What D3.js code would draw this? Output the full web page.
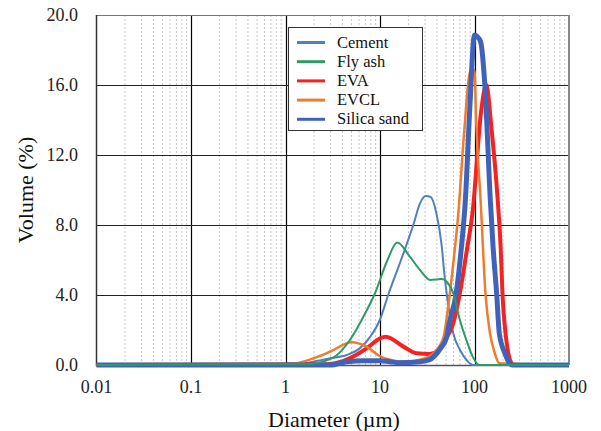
<!DOCTYPE html>
<html><head><meta charset="utf-8">
<script src="https://cdn.jsdelivr.net/npm/d3@7/dist/d3.min.js"></script>
<style>body{margin:0;background:#fff}svg{display:block}</style>
</head><body><svg id="c" width="601" height="431" font-family="Liberation Serif"></svg>
<script>
const xTicks = [0.01, 0.1, 1, 10, 100, 1000];
const xTickLabels = ["0.01", "0.1", "1", "10", "100", "1000"];
const yTicks = [0, 4, 8, 12, 16, 20];
const seriesNames = ["Cement", "Fly ash", "EVA", "EVCL", "Silica sand"];

const cementD = [0.01, 1.2, 1.97, 2.96, 4.45, 6.1, 7.9, 10, 12.2, 17.7, 22.5, 26.5, 30.4, 34.4, 39.2, 45, 48, 51, 55, 59.7, 70.3, 85, 96, 1000];
const cementV = [0, 0, 0.19, 0.38, 0.57, 0.95, 1.62, 2.6, 4.0, 6.38, 8.0, 9.24, 9.66, 9.6, 8.76, 6.8, 5.2, 4.0, 2.8, 1.8, 0.86, 0.2, 0, 0];

const flyashD = [0.01, 1.8, 2.5, 3.5, 4.8, 6.67, 8.85, 12, 15.2, 20.7, 26.5, 33.8, 45, 50.8, 59.6, 70, 82, 95.7, 112, 1000];
const flyashV = [0, 0.05, 0.19, 0.57, 1.43, 2.76, 4.1, 6.0, 7.0, 6.19, 5.43, 4.86, 4.91, 4.76, 4.1, 2.57, 1.43, 0.48, 0, 0];

const evaD = [0.01, 2.75, 3.9, 5.2, 7.2, 10, 11.5, 17.7, 24.4, 33.7, 41.7, 48.9, 59.6, 70, 82, 96, 118, 133, 152, 176, 189, 198, 213, 228, 247, 265, 1000];
const evaV = [0, 0.05, 0.19, 0.48, 0.95, 1.52, 1.62, 1.05, 0.67, 0.63, 0.86, 1.43, 2.38, 4.1, 6.38, 8.86, 14.57, 16.0, 13.4, 9.43, 6.76, 4.0, 1.81, 0.67, 0.1, 0, 0];

const evclD = [0.01, 1.02, 1.4, 1.97, 2.96, 5.0, 7.2, 10, 12.7, 16.2, 20, 26.5, 36.7, 47, 52, 59.6, 67, 78, 89.6, 100, 104, 116, 131, 146, 164, 183, 1000];
const evclV = [0, 0, 0.13, 0.38, 0.76, 1.3, 1.05, 0.5, 0.3, 0.2, 0.2, 0.3, 0.67, 1.6, 3.1, 5.8, 8.5, 13.4, 16.76, 16.86, 14, 9.43, 4.0, 1.81, 0.67, 0.1, 0];

const silicaD = [0.01, 3, 4.45, 6.7, 10, 12.7, 16, 26.5, 33, 43, 50.8, 54, 64, 72, 80, 89, 100, 107, 116, 129, 147, 157, 172, 183, 210, 235, 250, 1000];
const silicaV = [0, 0, 0.19, 0.25, 0.25, 0.19, 0.13, 0.19, 0.29, 0.9, 1.6, 2.38, 4.1, 6.5, 9.4, 14.57, 18.86, 18.76, 18.48, 15.9, 9.43, 6.8, 4.0, 1.8, 0.67, 0.1, 0, 0];

const colors = ["#4f81bd", "#2e9a68", "#f52222", "#f07b2e", "#3f63bb"];
const widths = [2, 2, 4, 2.5, 5];

const svg = d3.select("#c");
const L = 96.5, R = 569, T = 15, B = 365;
const x = d3.scaleLog().domain([0.01, 1000]).range([L, R]);
const y = d3.scaleLinear().domain([0, 20]).range([B, T]);

const minor = [];
for (let e = -2; e < 3; e++) for (let k = 2; k <= 9; k++) minor.push(k * Math.pow(10, e));
svg.append("g").selectAll("line").data(minor).join("line")
  .attr("x1", d => x(d)).attr("x2", d => x(d)).attr("y1", T).attr("y2", B)
  .attr("stroke", "#c8c8c8").attr("stroke-width", 1).attr("stroke-dasharray", "2,2");
svg.append("g").selectAll("line").data(xTicks.slice(1, -1)).join("line")
  .attr("x1", d => Math.round(x(d)) + 0.5).attr("x2", d => Math.round(x(d)) + 0.5).attr("y1", T).attr("y2", B)
  .attr("stroke", "#000").attr("stroke-width", 1.2);
svg.append("g").selectAll("line").data(yTicks.slice(1, -1)).join("line")
  .attr("x1", L).attr("x2", R).attr("y1", d => Math.round(y(d)) + 0.5).attr("y2", d => Math.round(y(d)) + 0.5)
  .attr("stroke", "#222").attr("stroke-width", 1.2);
svg.append("line").attr("x1", L).attr("x2", R).attr("y1", T + 0.5).attr("y2", T + 0.5).attr("stroke", "#777").attr("stroke-width", 1);
svg.append("line").attr("x1", R).attr("x2", R).attr("y1", T).attr("y2", B).attr("stroke", "#888").attr("stroke-width", 2);
svg.append("line").attr("x1", L).attr("x2", L).attr("y1", T).attr("y2", B + 1).attr("stroke", "#333").attr("stroke-width", 1.5);
svg.append("line").attr("x1", L).attr("x2", R).attr("y1", B + 0.5).attr("y2", B + 0.5).attr("stroke", "#555").attr("stroke-width", 1.5);

const sets = [[cementD, cementV], [flyashD, flyashV], [evaD, evaV], [evclD, evclV], [silicaD, silicaV]];
const line = d3.line().x(d => x(d[0])).y(d => y(d[1])).curve(d3.curveMonotoneX);
const order = [0, 2, 3, 4, 1];
order.forEach(i => {
  const pts = sets[i][0].map((d, j) => [d, sets[i][1][j]]);
  svg.append("path").datum(pts).attr("d", line).attr("fill", "none")
    .attr("stroke", colors[i]).attr("stroke-width", widths[i]).attr("stroke-linejoin", "round");
});

svg.append("g").selectAll("text").data(yTicks).join("text")
  .attr("x", 78).attr("y", d => y(d) + 6).attr("text-anchor", "end").attr("font-size", 18).attr("fill", "#222")
  .text(d => d.toFixed(1));
svg.append("g").selectAll("text").data(xTicks).join("text")
  .attr("x", d => x(d)).attr("y", 393).attr("text-anchor", "middle").attr("font-size", 18).attr("fill", "#222")
  .text((d, i) => xTickLabels[i]);
svg.append("text").attr("x", 334).attr("y", 427).attr("text-anchor", "middle").attr("font-size", 22).attr("fill", "#111").text("Diameter (µm)");
svg.append("text").attr("transform", "translate(33,190) rotate(-90)").attr("text-anchor", "middle").attr("font-size", 22).attr("fill", "#111").text("Volume (%)");

const lg = svg.append("g");
lg.append("rect").attr("x", 288.5).attr("y", 27.5).attr("width", 134).attr("height", 103)
  .attr("fill", "#fff").attr("stroke", "#333").attr("stroke-width", 1);
seriesNames.forEach((n, i) => {
  const yy = 42.5 + i * 19.2;
  lg.append("line").attr("x1", 297).attr("x2", 325).attr("y1", yy).attr("y2", yy)
    .attr("stroke", colors[i]).attr("stroke-width", 3);
  lg.append("text").attr("x", 337).attr("y", yy + 5).attr("font-size", 16.5).attr("fill", "#111").text(n);
});
</script></body></html>
